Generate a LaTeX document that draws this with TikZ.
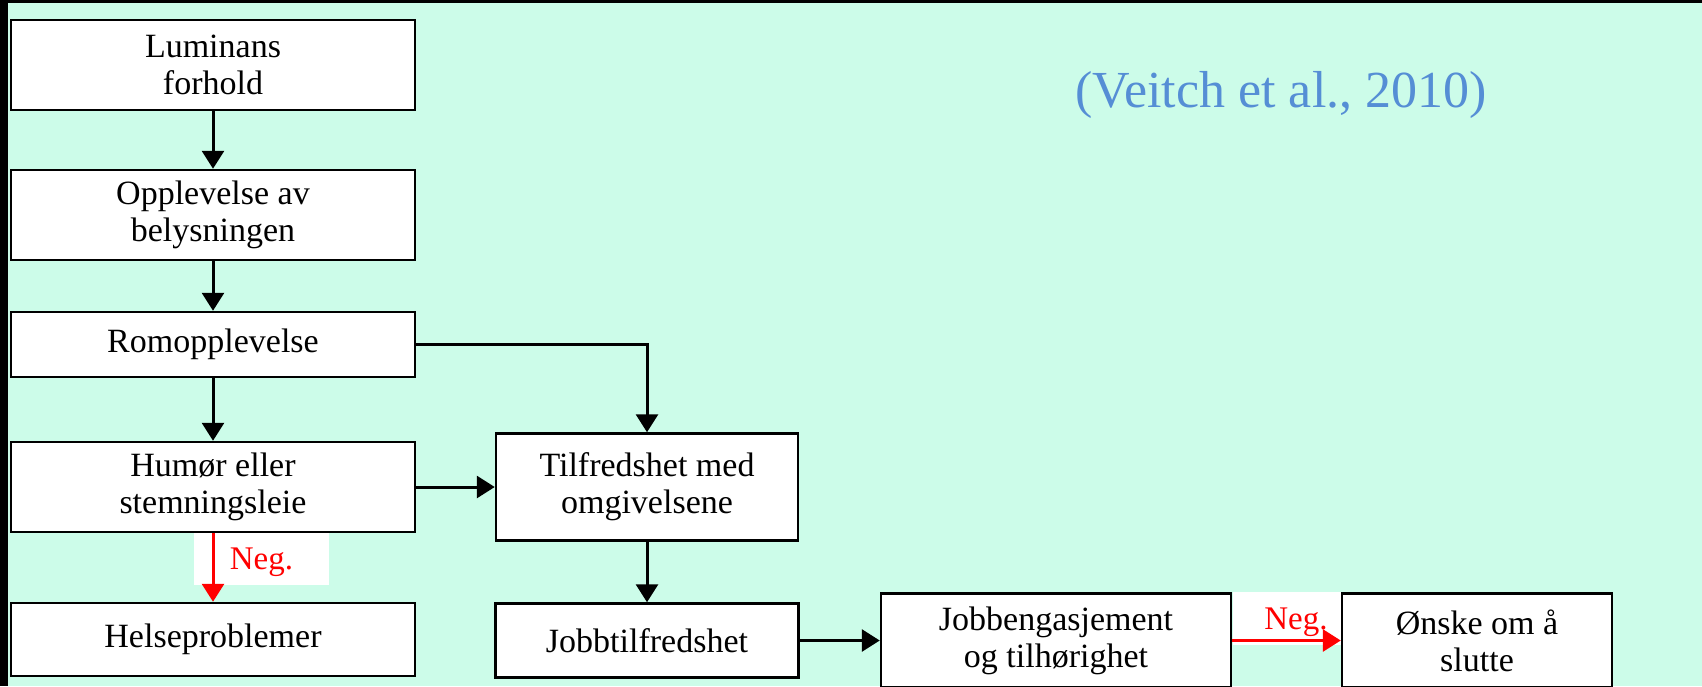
\documentclass[tikz,border=0pt]{standalone}
\usepackage{fontspec}
\setmainfont{Liberation Serif}
\usetikzlibrary{arrows.meta}
\definecolor{mint}{RGB}{204,252,233}
\definecolor{citeblue}{RGB}{85,142,213}

\begin{document}
\begin{tikzpicture}[x=1pt,y=-1pt,line width=3pt,>={Triangle[length=18pt,width=22pt]},node distance=150pt]
		\tikzstyle{block}=[draw,fill=white,line width=2.5pt,inner sep=0pt,align=center,font=\fontsize{34}{37}\selectfont]
		\tikzstyle{leftcol}=[block,minimum width=404pt]
		\tikzstyle{negbox}=[fill=white,text=red,inner sep=0pt,text depth=0pt,font=\fontsize{33}{33}\selectfont]
		
		\useasboundingbox (0,0) rectangle (1702,686);
		\clip (0,0) rectangle (1702,686);
		\fill[mint] (0,0) rectangle (1702,686);
		\fill[black] (0,0) rectangle (8,686);
		\fill[black] (0,0) rectangle (1702,3);
		
		% white patches behind the two negative links
		\node[negbox,minimum width=135pt,minimum height=52pt] (neg1) at (261.5,559) {Neg.};
		\node[negbox,minimum width=126pt,minimum height=53pt] (neg2) at (1296,618.5) {Neg.};
		
		\node[leftcol,minimum height=90pt] (lum) at (213,65) {Luminans\\forhold};
		\node[leftcol,minimum height=90pt] (opp) [below of=lum] {Opplevelse av\\belysningen};
		\node[leftcol,minimum height=65pt,node distance=129.5pt] (rom) [below of=opp] {Romopplevelse};
		\node[leftcol,minimum height=90pt,node distance=142.5pt] (hum) [below of=rom] {Humør eller\\stemningsleie};
		\node[leftcol,minimum height=73pt,node distance=152.5pt] (helse) [below of=hum] {Helseproblemer};
		\node[block,minimum width=302pt,minimum height=107pt,node distance=434pt] (tilf) [right of=hum] {Tilfredshet med\\omgivelsene};
		\node[block,minimum width=303pt,minimum height=74pt,node distance=153.5pt] (jobbt) [below of=tilf] {Jobbtilfredshet};
		\node[block,minimum width=350pt,minimum height=94pt,node distance=409pt] (jobbe) [right of=jobbt] {Jobbengasjement\\og tilhørighet};
		\node[block,minimum width=270pt,minimum height=94pt,node distance=421pt] (onske) [right of=jobbe] {Ønske om å\\slutte};
		
		\node[text=citeblue,font=\fontsize{52}{60}\selectfont,anchor=base] (cite) at (1281,107) {(Veitch et al., 2010)};
		
		\path[->]
		(lum) edge (opp)
		(opp) edge (rom)
		(rom) edge (hum)
		(hum) edge (tilf)
		(tilf) edge (jobbt)
		(jobbt) edge (jobbe);
		\draw[->] (rom) -| (tilf);
		
		\path[->,red]
		(hum) edge (helse)
		(jobbe) edge (onske);
		
	\end{tikzpicture}
\end{document}
